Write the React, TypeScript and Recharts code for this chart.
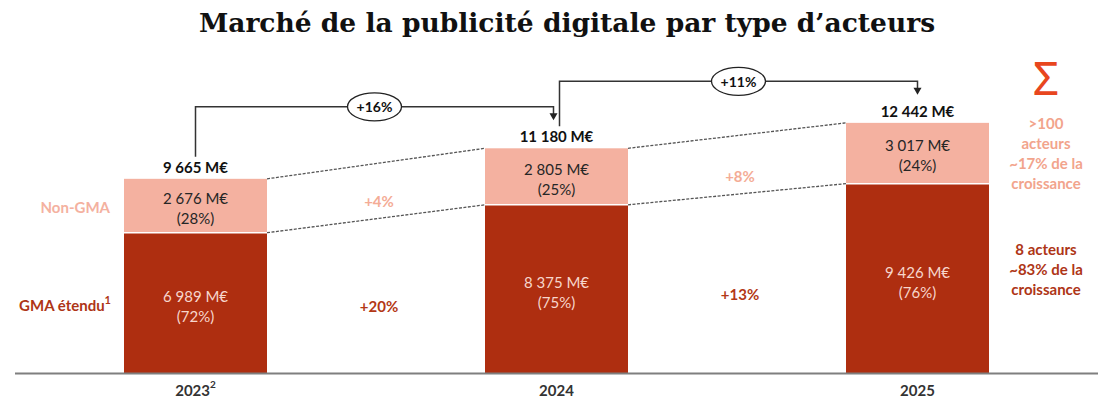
import React from "react"
import {BarChart, Bar, XAxis, YAxis} from "recharts"

const years = ["2023", "2024", "2025"]
const yearNotes = ["2", "", ""]
const gmaValues = [6989, 8375, 9426]
const nonGmaValues = [2676, 2805, 3017]
const totalValues = [9665, 11180, 12442]
const gmaShares = ["72%", "75%", "76%"]
const nonGmaShares = ["28%", "25%", "24%"]
const totalGrowth = ["+16%", "+11%"]
const gmaGrowth = ["+20%", "+13%"]
const nonGmaGrowth = ["+4%", "+8%"]
const nonGmaNote = [">100", "acteurs", "~17% de la", "croissance"]
const gmaNote = ["8 acteurs", "~83% de la", "croissance"]

const data = years.map((year, i) => ({year, gma: gmaValues[i], nonGma: nonGmaValues[i]}))

const CHART_W = 1110
const CHART_H = 400
const MARGIN = {top: 91.5, right: 12, left: 15, bottom: 0.5}
const STEP = (CHART_W - MARGIN.left - MARGIN.right) / years.length

const FONT = "Lato, 'Open Sans', sans-serif"
const DARK = "#AE2E10"
const PINK = "#F4B1A0"

const fmt = (v: number) => String(v).replace(/\B(?=(\d{3})+(?!\d))/g, " ") + " M€"

const TwoLines = ({x, y, lines, fill}: {x: number; y: number; lines: string[]; fill: string}) => (
    <text x={x} textAnchor="middle" fontFamily={FONT} fontSize={15} fill={fill}>
        {lines.map((l, j) => (
            <tspan key={j} x={x} y={y + (j - (lines.length - 1) / 2) * 20} dominantBaseline="central">{l}</tspan>
        ))}
    </text>
)

const GmaShape = (props: any) => {
    const {x, y, width, height, payload} = props
    const i = years.indexOf(payload.year)
    return (
        <g>
            <rect x={x} y={y} width={width} height={height} fill={DARK} />
            <TwoLines x={x + width / 2} y={y + height / 2 + 3} lines={[fmt(gmaValues[i]), `(${gmaShares[i]})`]} fill="#F7D6CC" />
        </g>
    )
}

const NonGmaShape = (props: any) => {
    const {x, y, width, height, payload} = props
    const i = years.indexOf(payload.year)
    const last = years.length - 1
    const k = height / nonGmaValues[i]
    const base = y + height + gmaValues[i] * k
    const cx = x + width / 2

    let link = null
    if (i < last) {
        const nx = x + STEP
        const nTop = base - (nonGmaValues[i + 1] + gmaValues[i + 1]) * k
        const nMid = base - gmaValues[i + 1] * k
        const ncx = nx + width / 2
        const x1 = cx + (i > 0 ? 3 : 0)
        const x2 = ncx - (i + 1 < last ? 3 : 0)
        const hy = nTop - 41.5
        const tip = nTop - 28
        const gx = (x + width + nx) / 2 + 3
        const lowMid = (y + height + nMid) / 2
        link = (
            <g>
                <line x1={x + width} y1={y} x2={nx} y2={nTop} stroke="#555" strokeWidth={1.3} strokeDasharray="3 1.5" />
                <line x1={x + width} y1={y + height} x2={nx} y2={nMid} stroke="#555" strokeWidth={1.3} strokeDasharray="3 1.5" />
                <text x={gx} y={lowMid - 18} textAnchor="middle" dominantBaseline="central" fontFamily={FONT} fontWeight="bold" fontSize={15} fill="#F4AC96">{nonGmaGrowth[i]}</text>
                <text x={gx} y={(lowMid + base) / 2 + 10} textAnchor="middle" dominantBaseline="central" fontFamily={FONT} fontWeight="bold" fontSize={15} fill="#B33816">{gmaGrowth[i]}</text>
                <polyline points={`${x1},${y - 22} ${x1},${hy} ${x2},${hy} ${x2},${tip - 6}`} fill="none" stroke="#333" strokeWidth={1.5} />
                <polygon points={`${x2 - 4},${tip - 7} ${x2 + 4},${tip - 7} ${x2},${tip}`} fill="#222" />
                <ellipse cx={(x1 + x2) / 2} cy={hy} rx={27} ry={14} fill="#fff" stroke="#222" strokeWidth={1.3} />
                <text x={(x1 + x2) / 2} y={hy} textAnchor="middle" dominantBaseline="central" fontFamily={FONT} fontWeight="bold" fontSize={14} fill="#111">{totalGrowth[i]}</text>
            </g>
        )
    }

    return (
        <g>
            <rect x={x} y={y} width={width} height={height} fill={PINK} />
            <line x1={x} y1={y + height} x2={x + width} y2={y + height} stroke="#fff" strokeWidth={1.5} />
            <TwoLines x={cx} y={y + height / 2 + 2} lines={[fmt(nonGmaValues[i]), `(${nonGmaShares[i]})`]} fill="#262626" />
            <text x={cx} y={y - 12} textAnchor="middle" dominantBaseline="central" fontFamily={FONT} fontWeight="bold" fontSize={15} fill="#111">{fmt(totalValues[i])}</text>
            {link}
            {i === 0 && (
                <g fontFamily={FONT} fontWeight="bold" fontSize={15} textAnchor="end">
                    <text x={x - 14} y={y + height / 2 + 1} dominantBaseline="central" fill="#F4B1A0">Non-GMA</text>
                    <text x={x - 13} y={(y + height + base) / 2 + 2} dominantBaseline="central" fill="#AE3516">
                        GMA étendu<tspan dy={-6} fontSize={11}>1</tspan>
                    </text>
                </g>
            )}
            {i === last && (
                <g fontFamily={FONT} fontWeight="bold" fontSize={15} textAnchor="middle">
                    <text x={x + width + 57} y={y - 46} dominantBaseline="central" fontFamily="'Noto Sans', 'DejaVu Sans', sans-serif" fontWeight="normal" fontSize={46} fill="#E8461E">Σ</text>
                    {nonGmaNote.map((l, j) => (
                        <text key={j} x={x + width + 57} y={y + height / 2 + (j - 1.5) * 20} dominantBaseline="central" fill="#F2A48C">{l}</text>
                    ))}
                    {gmaNote.map((l, j) => (
                        <text key={j} x={x + width + 57} y={(y + height + base) / 2 - 10 + (j - 1) * 20} dominantBaseline="central" fill="#AE3516">{l}</text>
                    ))}
                </g>
            )}
        </g>
    )
}

const YearTick = (props: any) => {
    const {x, y, payload} = props
    const note = yearNotes[years.indexOf(payload.value)]
    return (
        <text x={x} y={y + 8} textAnchor="middle" dominantBaseline="central" fontFamily={FONT} fontWeight="bold" fontSize={15} fill="#333">
            {payload.value}
            {note && <tspan dy={-6} fontSize={10}>{note}</tspan>}
        </text>
    )
}

export default function App() {
    return (
        <div style={{position: "absolute", left: 0, top: 0, width: CHART_W, height: CHART_H, background: "#fff"}}>
            <div style={{position: "absolute", left: 12, top: 7, width: CHART_W, textAlign: "center", fontFamily: "'DejaVu Serif', serif", fontWeight: "bold", fontSize: 26.5, color: "#111", whiteSpace: "nowrap"}}>
                Marché de la publicité digitale par type d’acteurs
            </div>
            <BarChart width={CHART_W} height={CHART_H} data={data} margin={MARGIN}>
                <XAxis dataKey="year" height={26} tickLine={false} axisLine={{stroke: "#7f7f7f", strokeWidth: 2}} tick={<YearTick />} interval={0} />
                <YAxis hide domain={[0, 14000]} />
                <Bar dataKey="gma" stackId="a" barSize={143} shape={<GmaShape />} isAnimationActive={false} />
                <Bar dataKey="nonGma" stackId="a" barSize={143} shape={<NonGmaShape />} isAnimationActive={false} />
            </BarChart>
        </div>
    )
}
